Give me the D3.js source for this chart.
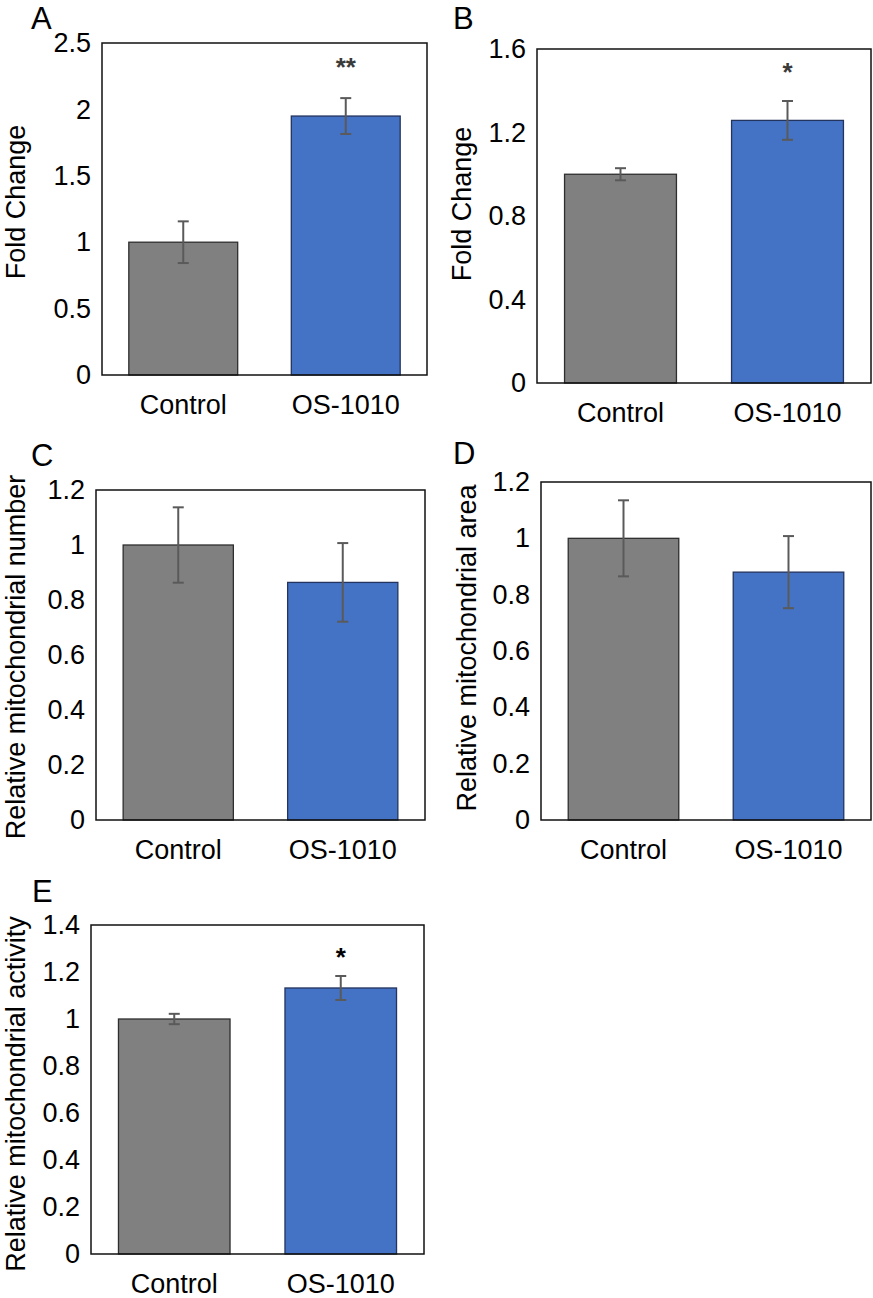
<!DOCTYPE html>
<html>
<head>
<meta charset="utf-8">
<script src="https://cdn.jsdelivr.net/npm/d3@7"></script>
<style>
  body { margin: 0; background: #fff; }
  text { font-family: "Liberation Sans", Arial, sans-serif; }
</style>
</head>
<body>
<svg id="chart" width="873" height="1298"></svg>
<script>
// ── Data ─────────────────────────────────────────────
const categories = ['Control', 'OS-1010'];

const meansA = [1.00, 1.95];
const errA   = [0.157, 0.135];
const ticksA = [0, 0.5, 1, 1.5, 2, 2.5];

const meansB = [1.00, 1.258];
const errB   = [0.029, 0.093];
const ticksB = [0, 0.4, 0.8, 1.2, 1.6];

const meansC = [1.00, 0.864];
const errC   = [0.137, 0.143];
const ticksC = [0, 0.2, 0.4, 0.6, 0.8, 1, 1.2];

const meansD = [1.00, 0.88];
const errD   = [0.135, 0.128];
const ticksD = [0, 0.2, 0.4, 0.6, 0.8, 1, 1.2];

const meansE = [1.00, 1.132];
const errE   = [0.022, 0.051];
const ticksE = [0, 0.2, 0.4, 0.6, 0.8, 1, 1.2, 1.4];

const starsA = ['', '**'];
const starsB = ['', '*'];
const starsC = ['', ''];
const starsD = ['', ''];
const starsE = ['', '*'];

// ── Layout ───────────────────────────────────────────
const panels = [
  { letter: 'A', means: meansA, err: errA, ticks: ticksA, stars: starsA, label: 'Fold Change',
    box: [102, 43, 427, 375], letterPos: [31, 29], labelPos: [25, 202], starGap: 36, starColor: '#3a3a3a' },
  { letter: 'B', means: meansB, err: errB, ticks: ticksB, stars: starsB, label: 'Fold Change',
    box: [537, 49, 871, 383], letterPos: [453, 29], labelPos: [471, 204], starGap: 34, starColor: '#3a3a3a' },
  { letter: 'C', means: meansC, err: errC, ticks: ticksC, stars: starsC, label: 'Relative mitochondrial number',
    box: [96, 490, 425, 820], letterPos: [31, 466], labelPos: [25, 657], starGap: 30, starColor: '#000' },
  { letter: 'D', means: meansD, err: errD, ticks: ticksD, stars: starsD, label: 'Relative mitochondrial area',
    box: [541, 482, 871, 820], letterPos: [453, 464], labelPos: [476, 648], starGap: 30, starColor: '#000' },
  { letter: 'E', means: meansE, err: errE, ticks: ticksE, stars: starsE, label: 'Relative mitochondrial activity',
    box: [91, 925, 424, 1254], letterPos: [32, 902], labelPos: [25, 1094], starGap: 24, starColor: '#000' }
];

const barFill = ['#808080', '#4472c4'];
const barStroke = ['#2e2e2e', '#23345e'];

const svg = d3.select('#chart');

panels.forEach(p => {
  const [x0, y0, x1, y1] = p.box;
  const g = svg.append('g');

  const x = d3.scaleBand().domain(categories).range([x0, x1])
    .paddingInner(0.33).paddingOuter(0.165);
  const y = d3.scaleLinear().domain([0, d3.max(p.ticks)]).range([y1, y0]);

  const rows = categories.map((c, i) => ({ c, v: p.means[i], e: p.err[i], s: p.stars[i], i }));

  // bars
  g.selectAll('rect.bar').data(rows).join('rect')
    .attr('class', 'bar')
    .attr('x', d => x(d.c))
    .attr('y', d => y(d.v))
    .attr('width', x.bandwidth())
    .attr('height', d => y(0) - y(d.v))
    .attr('fill', d => barFill[d.i])
    .attr('stroke', d => barStroke[d.i])
    .attr('stroke-width', 1.3);

  // error bars
  const cx = d => x(d.c) + x.bandwidth() / 2;
  const eb = g.selectAll('g.err').data(rows).join('g').attr('class', 'err')
    .attr('stroke', '#5a5a5a').attr('stroke-width', 2);
  eb.append('line')
    .attr('x1', cx).attr('x2', cx)
    .attr('y1', d => y(d.v + d.e)).attr('y2', d => y(d.v - d.e));
  eb.append('line')
    .attr('x1', d => cx(d) - 5.5).attr('x2', d => cx(d) + 5.5)
    .attr('y1', d => y(d.v + d.e)).attr('y2', d => y(d.v + d.e));
  eb.append('line')
    .attr('x1', d => cx(d) - 5.5).attr('x2', d => cx(d) + 5.5)
    .attr('y1', d => y(d.v - d.e)).attr('y2', d => y(d.v - d.e));

  // significance stars (glyph centre sits starGap above the error cap)
  g.selectAll('text.star').data(rows.filter(d => d.s)).join('text')
    .attr('class', 'star')
    .attr('x', cx)
    .attr('y', d => y(d.v + d.e) - p.starGap + 14)
    .attr('text-anchor', 'middle')
    .attr('font-size', 26)
    .attr('font-weight', 'bold')
    .attr('fill', p.starColor)
    .text(d => d.s);

  // frame
  g.append('rect')
    .attr('x', x0).attr('y', y0)
    .attr('width', x1 - x0).attr('height', y1 - y0)
    .attr('fill', 'none').attr('stroke', '#111').attr('stroke-width', 1.5);

  // y axis (labels only)
  const yAxis = d3.axisLeft(y).tickValues(p.ticks).tickSize(0).tickPadding(11)
    .tickFormat(d3.format('~g'));
  g.append('g').attr('transform', `translate(${x0},0)`).call(yAxis)
    .call(a => a.select('.domain').remove())
    .selectAll('text')
    .attr('font-size', 27)
    .attr('fill', '#000')
    .style('font-family', '"Liberation Sans", Arial, sans-serif');

  // x axis (labels only)
  const xAxis = d3.axisBottom(x).tickSize(0).tickPadding(20);
  g.append('g').attr('transform', `translate(0,${y1})`).call(xAxis)
    .call(a => a.select('.domain').remove())
    .selectAll('text')
    .attr('font-size', 27)
    .attr('fill', '#000')
    .style('font-family', '"Liberation Sans", Arial, sans-serif');

  // y label
  g.append('text')
    .attr('transform', `translate(${p.labelPos[0]},${p.labelPos[1]}) rotate(-90)`)
    .attr('text-anchor', 'middle')
    .attr('font-size', 27)
    .text(p.label);

  // panel letter
  g.append('text')
    .attr('x', p.letterPos[0]).attr('y', p.letterPos[1])
    .attr('font-size', 31)
    .text(p.letter);
});
</script>
</body>
</html>
